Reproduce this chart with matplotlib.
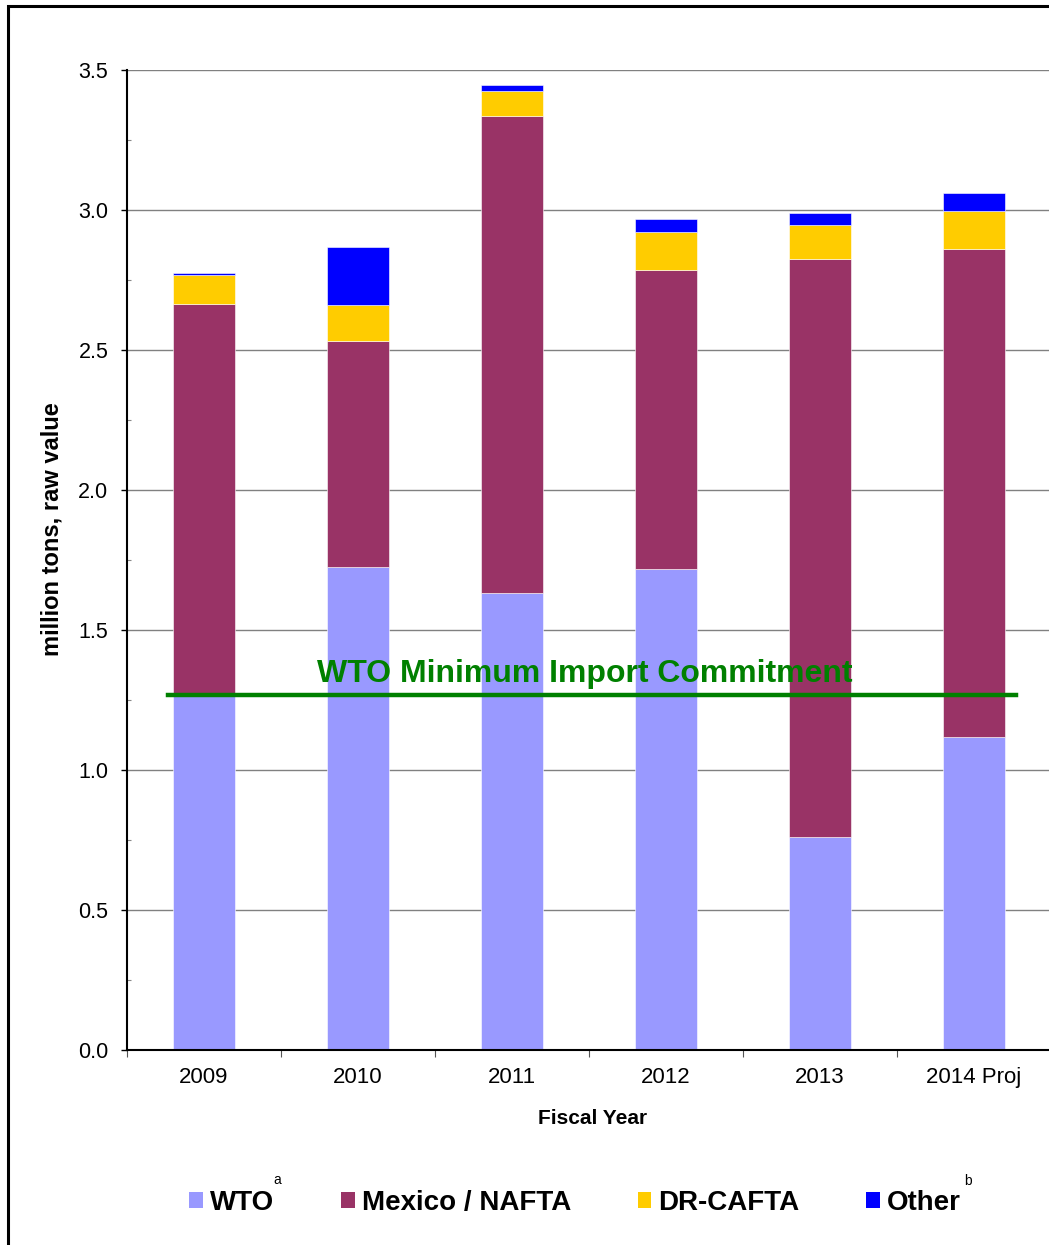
import numpy as np
import matplotlib
matplotlib.use("Agg")
import matplotlib.pyplot as plt
from matplotlib.patches import Patch, Rectangle
from matplotlib.ticker import MultipleLocator, FixedLocator, FormatStrFormatter

plt.rcParams['font.family'] = ['Liberation Sans', 'DejaVu Sans']

years = ['2009', '2010', '2011', '2012', '2013', '2014 Proj']
wto = [1.27, 1.725, 1.632, 1.718, 0.761, 1.118]
mexico = [1.394, 0.807, 1.704, 1.068, 2.064, 1.743]
dr_cafta = [0.104, 0.128, 0.090, 0.135, 0.121, 0.135]
other = [0.007, 0.208, 0.019, 0.047, 0.043, 0.065]
commitment = 1.268
series_names = ['WTO', 'Mexico / NAFTA', 'DR-CAFTA', 'Other']
colors = ['#9999FF', '#993366', '#FFCC00', '#0000FF']

W, H = 1049, 1245
fig = plt.figure(figsize=(W / 100, H / 100), dpi=100)
ax = fig.add_axes([127 / W, 1 - 1050 / H, 924 / W, 980 / H])

x = np.arange(len(years))
bottom = np.zeros(len(years))
for vals, c in zip([wto, mexico, dr_cafta, other], colors):
    ax.bar(x, vals, width=0.4, bottom=bottom, color=c,
           edgecolor='white', linewidth=0.4, zorder=2)
    bottom += np.array(vals)

# minimum import commitment line
ax.plot([-0.234, 5.27], [commitment, commitment], color='#008000', lw=3.2, zorder=3)
ax.text(2.474, commitment + 0.045, 'WTO Minimum Import Commitment', color='#008000',
        fontsize=23, fontweight='bold', ha='center', va='baseline', zorder=4)

ax.set_xlim(-0.5, 5.5)
ax.set_ylim(0, 3.5)

ax.yaxis.set_major_locator(MultipleLocator(0.5))
ax.yaxis.set_minor_locator(MultipleLocator(0.25))
ax.yaxis.set_major_formatter(FormatStrFormatter('%.1f'))
ax.tick_params(axis='y', which='major', direction='out', length=4.5, width=1,
               labelsize=15.5, pad=9)
ax.tick_params(axis='y', which='minor', direction='in', length=3, width=0.8,
               color='#888888')
ax.grid(axis='y', which='major', color='#808080', lw=1, zorder=1)

ax.xaxis.set_major_locator(FixedLocator(np.arange(-0.5, 6, 1)))
ax.xaxis.set_minor_locator(FixedLocator(x))
ax.xaxis.set_major_formatter(plt.NullFormatter())
ax.xaxis.set_minor_formatter(plt.FixedFormatter(years))
ax.tick_params(axis='x', which='major', direction='out', length=5, width=0.8,
               color='#555555')
ax.tick_params(axis='x', which='minor', length=0, labelsize=16, pad=12)

for s in ['top', 'right']:
    ax.spines[s].set_visible(False)
ax.spines['left'].set_linewidth(1.5)
ax.spines['bottom'].set_linewidth(1.5)

fig.text(52 / W, 1 - 529 / H, 'million tons, raw value', rotation=90,
         fontsize=17, fontweight='bold', ha='center', va='center')
fig.text(593 / W, 1 - 1119 / H, 'Fiscal Year', fontsize=15,
         fontweight='bold', ha='center', va='center')

handles = [Patch(facecolor=c, edgecolor='none') for c in colors]
fig.legend(handles, series_names, loc='center', ncol=4,
           bbox_to_anchor=(575 / W, 1 - 1203 / H), frameon=False,
           prop={'size': 20, 'weight': 'bold'}, handlelength=0.5,
           handleheight=0.5, handletextpad=0.25, columnspacing=2.4,
           borderpad=0)
fig.text(277 / W, 1 - 1180 / H, 'a', fontsize=10, ha='center', va='center')
fig.text(968 / W, 1 - 1181 / H, 'b', fontsize=10, ha='center', va='center')

fig.patches.append(Rectangle((8 / W, -0.1), 1.2, 1.1 - 6 / H, fill=False,
                             edgecolor='black', lw=2.2,
                             transform=fig.transFigure, figure=fig))

fig.savefig('out.png', dpi=100)
